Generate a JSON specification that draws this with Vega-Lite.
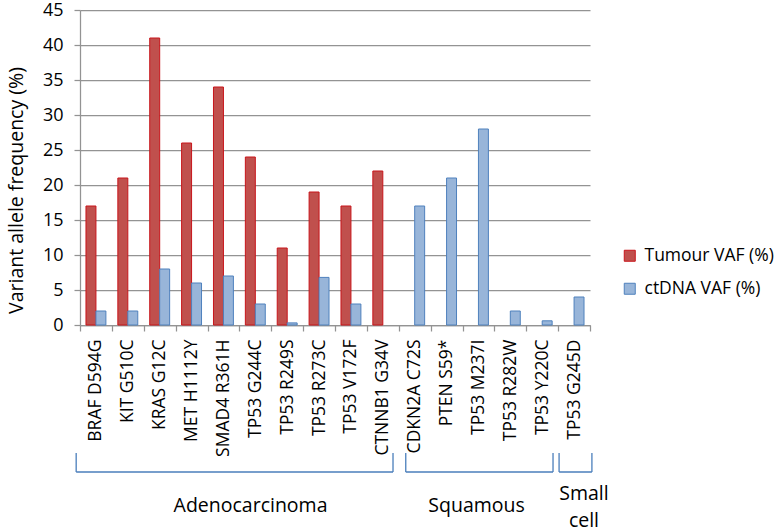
{
  "$schema": "https://vega.github.io/schema/vega-lite/v6.json",
  "autosize": {"type": "none"},
  "padding": {"left": 80, "top": 10, "right": 188, "bottom": 206},
  "width": 510,
  "height": 315,
  "background": "white",
  "config": {
    "view": {"stroke": null},
    "font": "Open Sans",
    "axis": {"labelColor": "#000000", "titleColor": "#000000", "labelFont": "Open Sans", "titleFont": "Open Sans"}
  },
  "datasets": {
    "bars": [
      {"mutation": "BRAF D594G", "series": "Tumour VAF (%)", "vaf": 17},
      {"mutation": "BRAF D594G", "series": "ctDNA VAF (%)", "vaf": 2},
      {"mutation": "KIT G510C", "series": "Tumour VAF (%)", "vaf": 21},
      {"mutation": "KIT G510C", "series": "ctDNA VAF (%)", "vaf": 2},
      {"mutation": "KRAS G12C", "series": "Tumour VAF (%)", "vaf": 41},
      {"mutation": "KRAS G12C", "series": "ctDNA VAF (%)", "vaf": 8},
      {"mutation": "MET H1112Y", "series": "Tumour VAF (%)", "vaf": 26},
      {"mutation": "MET H1112Y", "series": "ctDNA VAF (%)", "vaf": 6},
      {"mutation": "SMAD4 R361H", "series": "Tumour VAF (%)", "vaf": 34},
      {"mutation": "SMAD4 R361H", "series": "ctDNA VAF (%)", "vaf": 7},
      {"mutation": "TP53 G244C", "series": "Tumour VAF (%)", "vaf": 24},
      {"mutation": "TP53 G244C", "series": "ctDNA VAF (%)", "vaf": 3},
      {"mutation": "TP53 R249S", "series": "Tumour VAF (%)", "vaf": 11},
      {"mutation": "TP53 R249S", "series": "ctDNA VAF (%)", "vaf": 0.3},
      {"mutation": "TP53 R273C", "series": "Tumour VAF (%)", "vaf": 19},
      {"mutation": "TP53 R273C", "series": "ctDNA VAF (%)", "vaf": 6.8},
      {"mutation": "TP53 V172F", "series": "Tumour VAF (%)", "vaf": 17},
      {"mutation": "TP53 V172F", "series": "ctDNA VAF (%)", "vaf": 3},
      {"mutation": "CTNNB1 G34V", "series": "Tumour VAF (%)", "vaf": 22},
      {"mutation": "CDKN2A C72S", "series": "ctDNA VAF (%)", "vaf": 17},
      {"mutation": "PTEN S59*", "series": "ctDNA VAF (%)", "vaf": 21},
      {"mutation": "TP53 M237I", "series": "ctDNA VAF (%)", "vaf": 28},
      {"mutation": "TP53 R282W", "series": "ctDNA VAF (%)", "vaf": 2},
      {"mutation": "TP53 Y220C", "series": "ctDNA VAF (%)", "vaf": 0.6},
      {"mutation": "TP53 G245D", "series": "ctDNA VAF (%)", "vaf": 4}
    ],
    "groups": [
      {"group": "Adenocarcinoma", "start": -0.12, "end": 9.82, "center": 5.35},
      {"group": "Squamous", "start": 10.22, "end": 14.84, "center": 12.44},
      {"group": "Small\ncell", "start": 15.03, "end": 16.06, "center": 15.81}
    ]
  },
  "layer": [
    {
      "data": {"name": "bars"},
      "mark": {"type": "bar", "strokeWidth": 1},
      "encoding": {
        "x": {
          "field": "mutation",
          "type": "nominal",
          "sort": null,
          "scale": {
            "domain": ["BRAF D594G", "KIT G510C", "KRAS G12C", "MET H1112Y", "SMAD4 R361H", "TP53 G244C", "TP53 R249S", "TP53 R273C", "TP53 V172F", "CTNNB1 G34V", "CDKN2A C72S", "PTEN S59*", "TP53 M237I", "TP53 R282W", "TP53 Y220C", "TP53 G245D"],
            "paddingInner": 0,
            "paddingOuter": 0
          },
          "axis": {
            "title": null,
            "labelAngle": -90,
            "labelFontSize": 17.5,
            "labelPadding": 8,
            "labelOverlap": false,
            "tickBand": "extent",
            "tickSize": 6,
            "tickColor": "#939393",
            "tickWidth": 1.25,
            "domainColor": "#939393",
            "domainWidth": 1.25,
            "grid": false
          }
        },
        "xOffset": {
          "field": "series",
          "type": "nominal",
          "scale": {"domain": ["Tumour VAF (%)", "ctDNA VAF (%)"], "paddingInner": 0, "paddingOuter": 0.6}
        },
        "y": {
          "field": "vaf",
          "type": "quantitative",
          "scale": {"domain": [0, 45], "nice": false},
          "axis": {
            "title": "Variant allele frequency (%)",
            "titleFontSize": 19.5,
            "titleFontWeight": "normal",
            "titleX": -58,
            "titleY": 180,
            "titleAlign": "center",
            "titleBaseline": "alphabetic",
            "titleAngle": -90,
            "values": [0, 5, 10, 15, 20, 25, 30, 35, 40, 45],
            "labelOverlap": false,
            "labelFontSize": 18,
            "labelPadding": 11,
            "tickSize": 6,
            "tickColor": "#939393",
            "tickWidth": 1.25,
            "domainColor": "#939393",
            "domainWidth": 1.25,
            "grid": true,
            "gridColor": "#939393",
            "gridWidth": 1.25
          }
        },
        "fill": {
          "field": "series",
          "type": "nominal",
          "scale": {"domain": ["Tumour VAF (%)", "ctDNA VAF (%)"], "range": ["#C0504D", "#98B5D9"]},
          "legend": {
            "title": null,
            "orient": "none",
            "legendX": 541,
            "legendY": 237,
            "symbolType": "square",
            "symbolSize": 121,
            "symbolStrokeWidth": 1,
            "labelFontSize": 17.5,
            "labelFont": "Open Sans",
            "labelColor": "#000000",
            "labelOffset": 6,
            "labelLimit": 200,
            "rowPadding": 14
          }
        },
        "stroke": {
          "field": "series",
          "type": "nominal",
          "scale": {"domain": ["Tumour VAF (%)", "ctDNA VAF (%)"], "range": ["#C8151B", "#4F81BD"]},
          "legend": {
            "title": null,
            "orient": "none",
            "legendX": 541,
            "legendY": 237,
            "symbolType": "square",
            "symbolSize": 121,
            "symbolStrokeWidth": 1,
            "labelFontSize": 17.5,
            "labelFont": "Open Sans",
            "labelColor": "#000000",
            "labelOffset": 6,
            "labelLimit": 200,
            "rowPadding": 14
          }
        }
      }
    },
    {
      "data": {"name": "groups"},
      "mark": {"type": "rule", "color": "#4A7EBB", "strokeWidth": 1.3},
      "encoding": {
        "x": {"field": "start", "type": "quantitative", "scale": {"domain": [0, 16], "nice": false, "zero": false}, "axis": null},
        "x2": {"field": "end"},
        "y": {"datum": -21, "type": "quantitative", "scale": {"domain": [0, 45], "nice": false}, "axis": null}
      }
    },
    {
      "data": {"name": "groups"},
      "mark": {"type": "rule", "color": "#4A7EBB", "strokeWidth": 1.3},
      "encoding": {
        "x": {"field": "start", "type": "quantitative", "scale": {"domain": [0, 16], "nice": false, "zero": false}, "axis": null},
        "y": {"datum": -18.3, "type": "quantitative", "scale": {"domain": [0, 45], "nice": false}, "axis": null},
        "y2": {"datum": -21}
      }
    },
    {
      "data": {"name": "groups"},
      "mark": {"type": "rule", "color": "#4A7EBB", "strokeWidth": 1.3},
      "encoding": {
        "x": {"field": "end", "type": "quantitative", "scale": {"domain": [0, 16], "nice": false, "zero": false}, "axis": null},
        "y": {"datum": -18.3, "type": "quantitative", "scale": {"domain": [0, 45], "nice": false}, "axis": null},
        "y2": {"datum": -21}
      }
    },
    {
      "data": {"name": "groups"},
      "transform": [{"filter": "indexof(datum.group, '\\n') < 0"}],
      "mark": {"type": "text", "fontSize": 19.5, "font": "Open Sans", "color": "#000000", "align": "center", "baseline": "middle"},
      "encoding": {
        "x": {"field": "center", "type": "quantitative", "scale": {"domain": [0, 16], "nice": false, "zero": false}, "axis": null},
        "y": {"datum": -25.8, "type": "quantitative", "scale": {"domain": [0, 45], "nice": false}, "axis": null},
        "text": {"field": "group"}
      }
    },
    {
      "data": {"name": "groups"},
      "transform": [{"filter": "indexof(datum.group, '\\n') >= 0"}],
      "mark": {"type": "text", "fontSize": 19.5, "font": "Open Sans", "color": "#000000", "align": "center", "baseline": "middle", "lineBreak": "\n", "lineHeight": 27},
      "encoding": {
        "x": {"field": "center", "type": "quantitative", "scale": {"domain": [0, 16], "nice": false, "zero": false}, "axis": null},
        "y": {"datum": -24.1, "type": "quantitative", "scale": {"domain": [0, 45], "nice": false}, "axis": null},
        "text": {"field": "group"}
      }
    }
  ],
  "resolve": {"scale": {"x": "independent", "y": "independent"}}
}
